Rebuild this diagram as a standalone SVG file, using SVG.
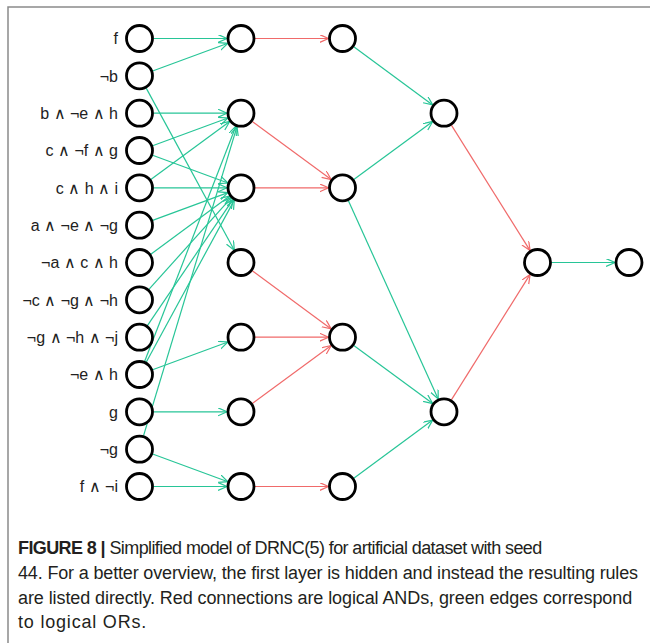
<svg xmlns="http://www.w3.org/2000/svg" width="650" height="643" viewBox="0 0 650 643">
  <style>
    .node { fill: #ffffff; stroke: #000000; stroke-width: 2.8; }
    .lbl { font-family: "Liberation Sans", Arial, sans-serif; font-size: 16px; fill: #222222; text-anchor: end; }
    .or { stroke: #27c597; stroke-width: 1.2; fill: none; marker-end: url(#arrOr); }
    .and { stroke: #f06a6a; stroke-width: 1.2; fill: none; marker-end: url(#arrAnd); }
    .cap { font-family: "Liberation Sans", Arial, sans-serif; font-size: 18px; fill: #231f20; }
    .frame { stroke: #8a8a8a; stroke-width: 1.5; fill: none; }
  </style>
  <defs>
    <marker id="arrOr" markerUnits="userSpaceOnUse" markerWidth="12" markerHeight="10" refX="9" refY="4" orient="auto">
      <path d="M0,0 L9,4 L0,8" fill="none" stroke="#27c597" stroke-width="1.2"/>
    </marker>
    <marker id="arrAnd" markerUnits="userSpaceOnUse" markerWidth="12" markerHeight="10" refX="9" refY="4" orient="auto">
      <path d="M0,0 L9,4 L0,8" fill="none" stroke="#f06a6a" stroke-width="1.2"/>
    </marker>
  </defs>

  <rect width="650" height="643" fill="#ffffff"/>
  <!-- page frame -->
  <path class="frame" d="M8,643 L8,7 L650,7"/>

  <!-- connectors -->
  <g id="connectors">
    <!-- rules to first visible layer (OR) -->
    <line class="or" x1="153.5" y1="38.5" x2="227" y2="38.5"/>
    <line class="or" x1="152.6" y1="71.0" x2="227.9" y2="43.3"/>
    <line class="or" x1="146.2" y1="88.1" x2="234.3" y2="250.2"/>
    <line class="or" x1="153.5" y1="113.2" x2="227" y2="113.2"/>
    <line class="or" x1="152.6" y1="145.7" x2="227.9" y2="118.0"/>
    <line class="or" x1="152.6" y1="155.3" x2="227.9" y2="183.0"/>
    <line class="or" x1="150.8" y1="179.5" x2="229.7" y2="121.5"/>
    <line class="or" x1="153.5" y1="187.8" x2="227" y2="187.8"/>
    <line class="or" x1="152.6" y1="220.4" x2="227.9" y2="192.6"/>
    <line class="or" x1="150.8" y1="254.2" x2="229.7" y2="196.1"/>
    <line class="or" x1="148.9" y1="289.4" x2="231.6" y2="197.4"/>
    <line class="or" x1="147.4" y1="325.6" x2="233.1" y2="199.4"/>
    <line class="or" x1="146.2" y1="362.2" x2="234.3" y2="200.1"/>
    <line class="or" x1="144.6" y1="361.5" x2="235.9" y2="126.2"/>
    <line class="or" x1="152.6" y1="369.7" x2="227.9" y2="342.0"/>
    <line class="or" x1="153.5" y1="411.8" x2="227" y2="411.8"/>
    <line class="or" x1="143.5" y1="435.8" x2="237.0" y2="126.6"/>
    <line class="or" x1="152.6" y1="454.0" x2="227.9" y2="481.7"/>
    <line class="or" x1="153.5" y1="486.5" x2="227" y2="486.5"/>
    <!-- AND layer -->
    <line class="and" x1="255" y1="38.5" x2="328.5" y2="38.5"/>
    <line class="and" x1="252.3" y1="121.5" x2="331.2" y2="179.5"/>
    <line class="and" x1="255" y1="187.8" x2="328.5" y2="187.8"/>
    <line class="and" x1="252.3" y1="270.8" x2="331.2" y2="328.9"/>
    <line class="and" x1="255" y1="337.2" x2="328.5" y2="337.2"/>
    <line class="and" x1="252.3" y1="403.5" x2="331.2" y2="345.5"/>
    <line class="and" x1="255" y1="486.5" x2="328.5" y2="486.5"/>
    <!-- OR layer -->
    <line class="or" x1="353.8" y1="46.8" x2="432.7" y2="104.9"/>
    <line class="or" x1="353.8" y1="179.5" x2="432.7" y2="121.5"/>
    <line class="or" x1="348.3" y1="200.6" x2="438.2" y2="399.0"/>
    <line class="or" x1="353.8" y1="345.5" x2="432.7" y2="403.5"/>
    <line class="or" x1="353.8" y1="478.2" x2="432.7" y2="420.1"/>
    <!-- AND layer -->
    <line class="and" x1="451.4" y1="125.1" x2="530.1" y2="250.6"/>
    <line class="and" x1="451.4" y1="399.9" x2="530.1" y2="274.4"/>
    <!-- output -->
    <line class="or" x1="551.5" y1="262.5" x2="615" y2="262.5"/>
  </g>

  <!-- rule nodes -->
  <g id="r0"><circle class="node" cx="139.5" cy="38.5" r="13"/><text class="lbl" x="118" y="44.3">f</text></g>
  <g id="r1"><circle class="node" cx="139.5" cy="75.8" r="13"/><text class="lbl" x="118" y="81.6">¬b</text></g>
  <g id="r2"><circle class="node" cx="139.5" cy="113.2" r="13"/><text class="lbl" x="118" y="119">b ∧ ¬e ∧ h</text></g>
  <g id="r3"><circle class="node" cx="139.5" cy="150.5" r="13"/><text class="lbl" x="118" y="156.3">c ∧ ¬f ∧ g</text></g>
  <g id="r4"><circle class="node" cx="139.5" cy="187.8" r="13"/><text class="lbl" x="118" y="193.6">c ∧ h ∧ i</text></g>
  <g id="r5"><circle class="node" cx="139.5" cy="225.2" r="13"/><text class="lbl" x="118" y="231">a ∧ ¬e ∧ ¬g</text></g>
  <g id="r6"><circle class="node" cx="139.5" cy="262.5" r="13"/><text class="lbl" x="118" y="268.3">¬a ∧ c ∧ h</text></g>
  <g id="r7"><circle class="node" cx="139.5" cy="299.8" r="13"/><text class="lbl" x="118" y="305.6">¬c ∧ ¬g ∧ ¬h</text></g>
  <g id="r8"><circle class="node" cx="139.5" cy="337.2" r="13"/><text class="lbl" x="118" y="343">¬g ∧ ¬h ∧ ¬j</text></g>
  <g id="r9"><circle class="node" cx="139.5" cy="374.5" r="13"/><text class="lbl" x="118" y="380.3">¬e ∧ h</text></g>
  <g id="r10"><circle class="node" cx="139.5" cy="411.8" r="13"/><text class="lbl" x="118" y="417.6">g</text></g>
  <g id="r11"><circle class="node" cx="139.5" cy="449.2" r="13"/><text class="lbl" x="118" y="455">¬g</text></g>
  <g id="r12"><circle class="node" cx="139.5" cy="486.5" r="13"/><text class="lbl" x="118" y="492.3">f ∧ ¬i</text></g>

  <!-- layer 1 -->
  <g id="a0"><circle class="node" cx="241" cy="38.5" r="13"/></g>
  <g id="a1"><circle class="node" cx="241" cy="113.2" r="13"/></g>
  <g id="a2"><circle class="node" cx="241" cy="187.8" r="13"/></g>
  <g id="a3"><circle class="node" cx="241" cy="262.5" r="13"/></g>
  <g id="a4"><circle class="node" cx="241" cy="337.2" r="13"/></g>
  <g id="a5"><circle class="node" cx="241" cy="411.8" r="13"/></g>
  <g id="a6"><circle class="node" cx="241" cy="486.5" r="13"/></g>

  <!-- layer 2 -->
  <g id="b0"><circle class="node" cx="342.5" cy="38.5" r="13"/></g>
  <g id="b1"><circle class="node" cx="342.5" cy="187.8" r="13"/></g>
  <g id="b2"><circle class="node" cx="342.5" cy="337.2" r="13"/></g>
  <g id="b3"><circle class="node" cx="342.5" cy="486.5" r="13"/></g>

  <!-- layer 3 -->
  <g id="c0"><circle class="node" cx="444" cy="113.2" r="13"/></g>
  <g id="c1"><circle class="node" cx="444" cy="411.8" r="13"/></g>

  <!-- layer 4 and output -->
  <g id="d0"><circle class="node" cx="537.5" cy="262.5" r="13"/></g>
  <g id="out"><circle class="node" cx="629" cy="262.5" r="13"/></g>

  <!-- caption -->
  <text class="cap" x="18" y="554" letter-spacing="-0.6"><tspan font-weight="bold">FIGURE 8 |</tspan> Simplified model of DRNC(5) for artificial dataset with seed</text>
  <text class="cap" x="18" y="579" letter-spacing="-0.16">44. For a better overview, the first layer is hidden and instead the resulting rules</text>
  <text class="cap" x="18" y="604" letter-spacing="-0.09">are listed directly. Red connections are logical ANDs, green edges correspond</text>
  <text class="cap" x="18" y="628" letter-spacing="0.8">to logical ORs.</text>
</svg>
